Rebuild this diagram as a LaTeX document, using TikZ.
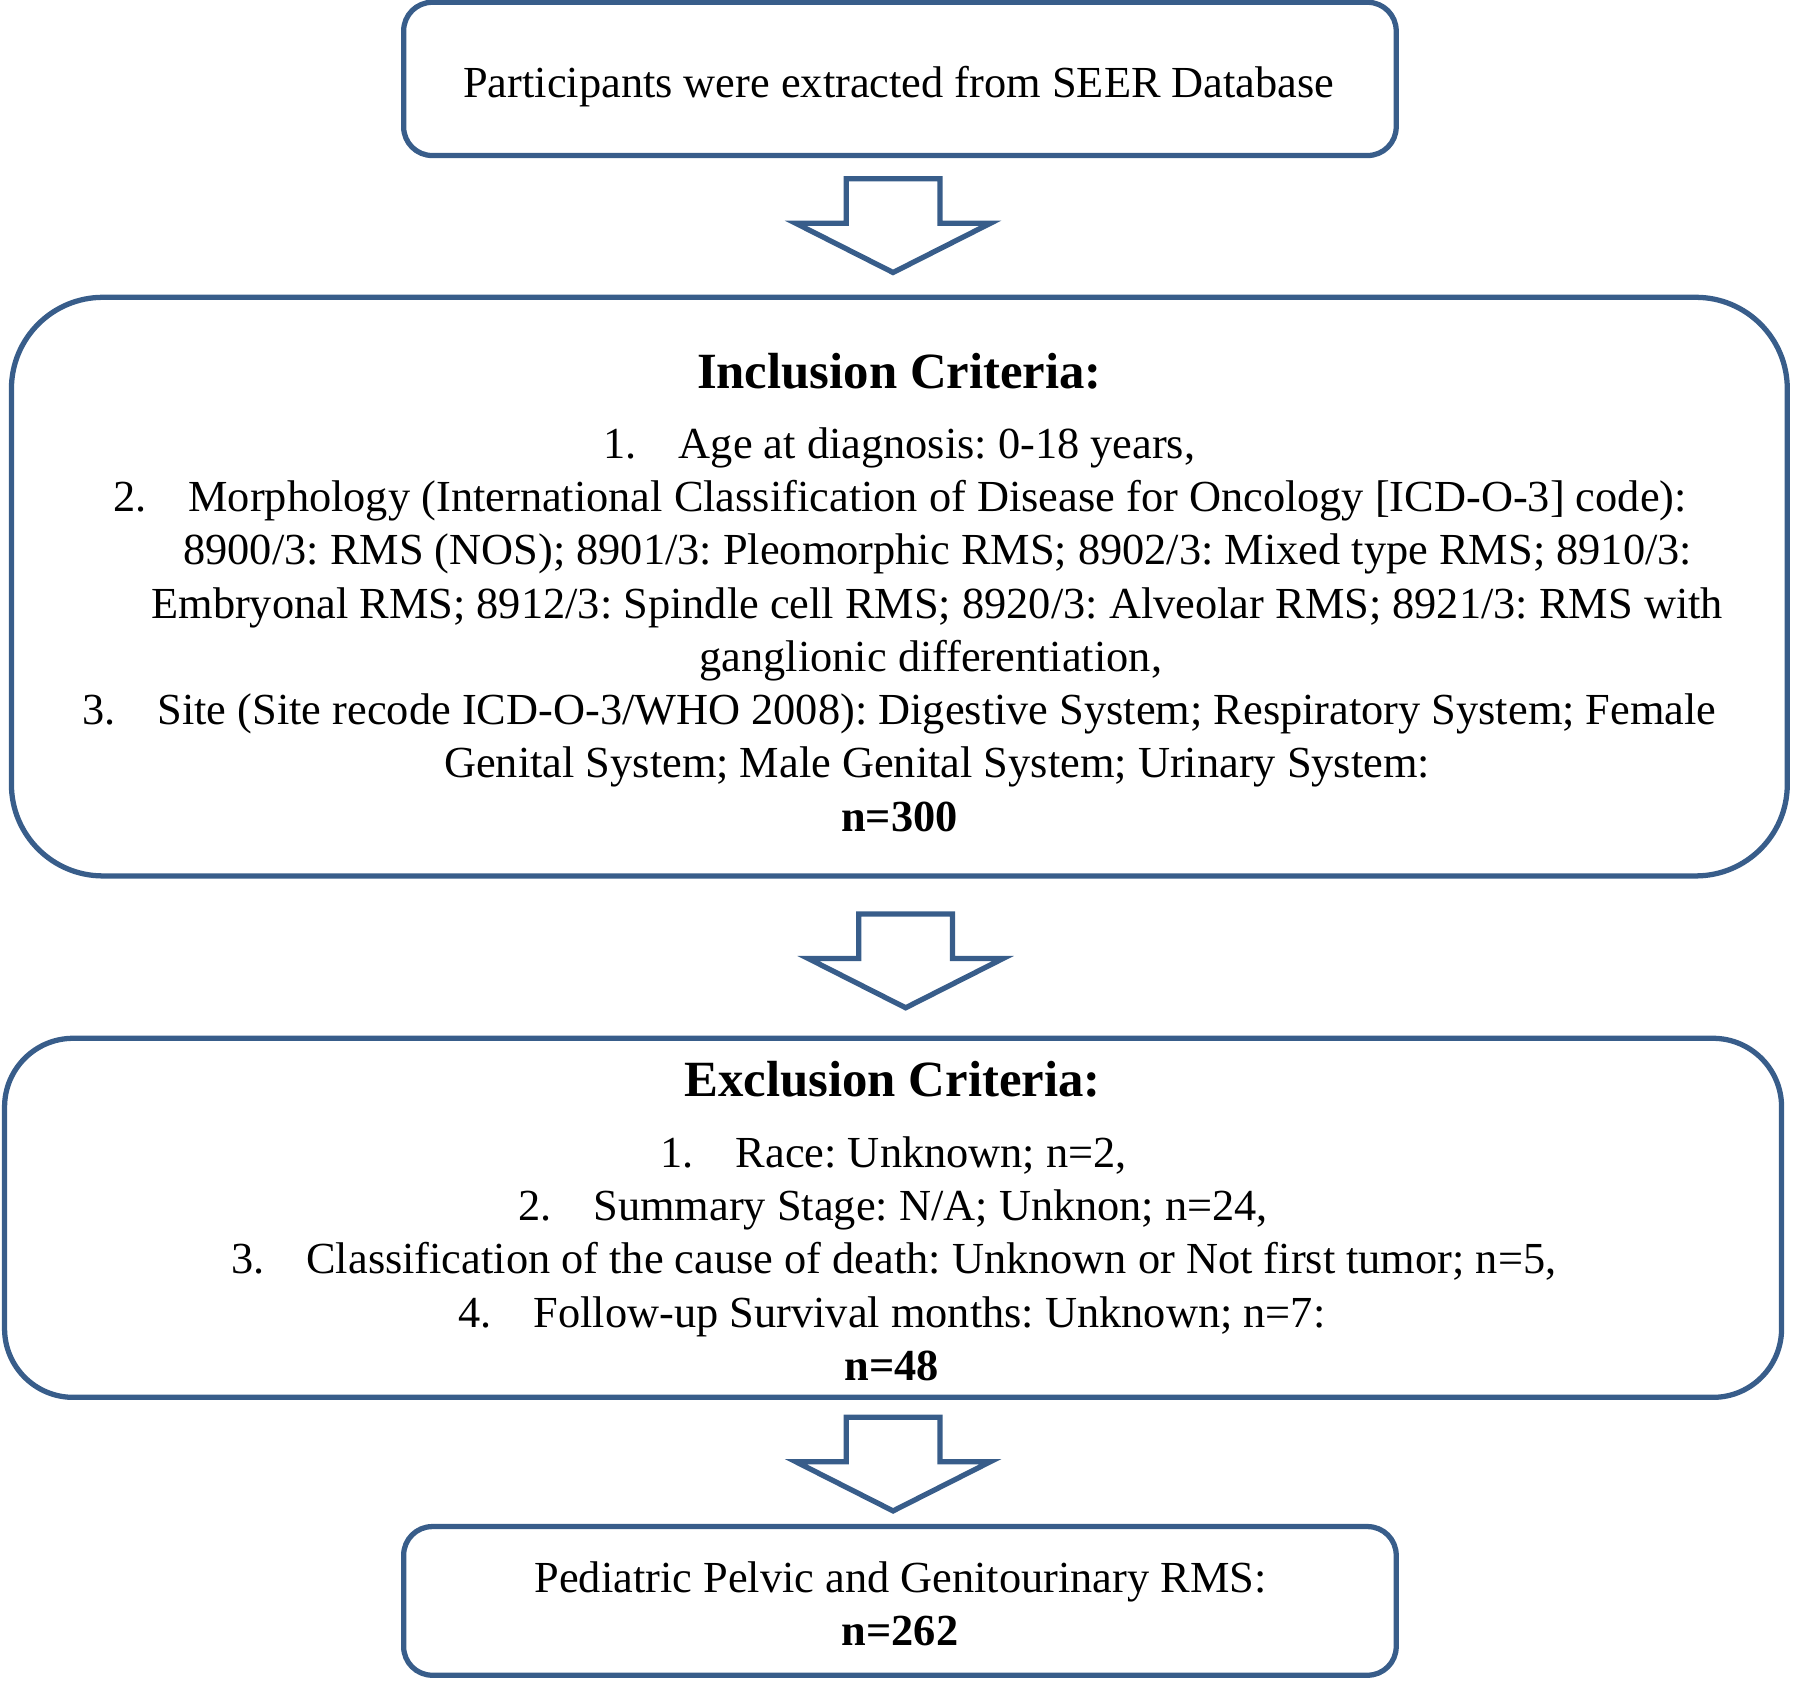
\documentclass[tikz,border=0pt]{standalone}
\usepackage{fontspec}
\setmainfont{Liberation Serif}
\usetikzlibrary{calc}
\definecolor{boxblue}{HTML}{385D8A}
\newcommand\tb{\hspace{0.95em}}
\frenchspacing
\begin{document}
\frenchspacing
\begin{tikzpicture}[x=0.5pt,y=-0.5pt,
  box/.style={draw=boxblue,line width=2.3pt,rounded corners=#1,inner sep=0pt},
  txt/.style={anchor=base,inner sep=0pt,font=\fontsize{19.4}{23.3}\selectfont\frenchspacing},
  bld/.style={txt,font=\fontsize{19.4}{23.3}\selectfont\bfseries},
  ttl/.style={anchor=base,inner sep=0pt,font=\fontsize{22.2}{26}\selectfont\bfseries},
  barrow/.style={draw=boxblue,line width=2.3pt,line join=miter}]
\useasboundingbox (0,0) rectangle (1568,1471);
% boxes
\node[box=12.5pt,minimum width=434pt,minimum height=67pt] (b1) at (787,69) {};
\node[box=40pt,minimum width=776.5pt,minimum height=253pt] (b2) at (786.5,513) {};
\node[box=30pt,minimum width=777pt,minimum height=157pt] (b3) at (781,1065) {};
\node[box=12.5pt,minimum width=434pt,minimum height=65pt] (b4) at (787,1400) {};
% block arrows
\newcommand\blockarr[1]{%
  \draw[barrow] ($(#1)+(-41,0)$) -- ($(#1)+(41,0)$) -- ($(#1)+(41,39)$) -- ($(#1)+(85,39)$)
    -- ($(#1)+(0,82)$) -- ($(#1)+(-85,39)$) -- ($(#1)+(-41,39)$) -- cycle;}
\coordinate (a1) at ($(b1.south)+(-6,18)$);
\coordinate (a2) at ($(b2.south)+(5.5,31)$);
\coordinate (a3) at ($(b3.south)+(0,15)$);
\blockarr{a1}
\blockarr{a2}
\blockarr{a3}
% texts
\node[txt] (t1) at (786,85) {Participants were extracted from SEER Database};
\node[ttl] (it) at (786.5,340) {Inclusion Criteria:};
\node[txt] (i1) at (786.5,401) {1.\tb Age at diagnosis: 0-18 years,};
\node[txt] (i2) at (787,447) {2.\tb Morphology (International Classification of Disease for Oncology [ICD-O-3] code):};
\node[txt] (i3) at (820,494) {8900/3: RMS (NOS); 8901/3: Pleomorphic RMS; 8902/3: Mixed type RMS; 8910/3:};
\node[txt] (i4) at (819.5,541) {Embryonal RMS; 8912/3: Spindle cell RMS; 8920/3: Alveolar RMS; 8921/3: RMS with};
\node[txt] (i5) at (814,587) {ganglionic differentiation,};
\node[txt] (i6) at (786.5,634) {3.\tb Site (Site recode ICD-O-3/WHO 2008): Digestive System; Respiratory System; Female};
\node[txt] (i7) at (819.5,680) {Genital System; Male Genital System; Urinary System:};
\node[bld] (i8) at (786.5,727) {n=300};
\node[ttl] (et) at (780.5,959) {Exclusion Criteria:};
\node[txt] (e1) at (781.5,1021) {1.\tb Race: Unknown; n=2,};
\node[txt] (e2) at (781,1067) {2.\tb Summary Stage: N/A; Unknon; n=24,};
\node[txt] (e3) at (781.5,1114) {3.\tb Classification of the cause of death: Unknown or Not first tumor; n=5,};
\node[txt] (e4) at (780,1161) {4.\tb Follow-up Survival months: Unknown; n=7:};
\node[bld] (e5) at (780,1207) {n=48};
\node[txt] (f1) at (787.5,1393) {Pediatric Pelvic and Genitourinary RMS:};
\node[bld] (f2) at (787,1439) {n=262};
\end{tikzpicture}
\end{document}
